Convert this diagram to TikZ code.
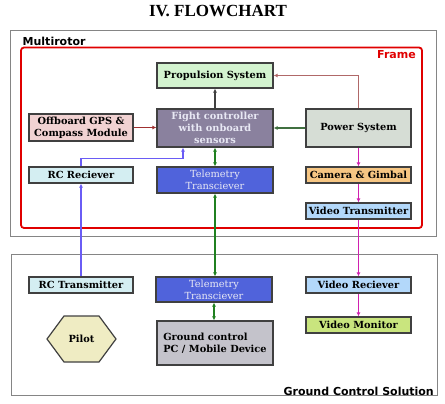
\documentclass[tikz,border=0pt]{standalone}
\usepackage{fontspec}
\setmainfont{Liberation Serif}
\newfontfamily\boxfont{DejaVu Serif}
\newfontfamily\labfont{DejaVu Sans}
\usetikzlibrary{arrows.meta}
\definecolor{cProp}{HTML}{D3F3CF}
\definecolor{cFC}{HTML}{8A819E}
\definecolor{cGPS}{HTML}{F1D2D2}
\definecolor{cPow}{HTML}{D6DDD5}
\definecolor{cRC}{HTML}{D4EEF2}
\definecolor{cTel}{HTML}{5063DB}
\definecolor{cCam}{HTML}{F6C683}
\definecolor{cVid}{HTML}{B3D8FA}
\definecolor{cMon}{HTML}{C9E57E}
\definecolor{cGPC}{HTML}{C4C3CB}
\definecolor{cPil}{HTML}{EFECC3}
\definecolor{cBord}{HTML}{404040}
\definecolor{cOut}{HTML}{858585}
\definecolor{cFrame}{HTML}{E00000}
\definecolor{aProp}{HTML}{B06868}
\definecolor{aGPS}{HTML}{A03030}
\definecolor{aPow}{HTML}{407040}
\definecolor{aBlue}{HTML}{6A5CF5}
\definecolor{aGreen}{HTML}{208020}
\definecolor{aMag}{HTML}{D020B0}
\definecolor{tLight}{HTML}{E8E8F4}
\tikzset{
  blk/.style={draw=cBord, line width=1.2pt, inner sep=1pt, align=center,
    font=\boxfont\bfseries\fontsize{9.8}{11.7}\selectfont},
  tel/.style={blk, fill=cTel, text=tLight, font=\boxfont\fontsize{9.8}{11.7}\selectfont},
  conn/.style={line width=1.1pt, -{Latex[length=4pt,width=4pt]}},
  dconn/.style={line width=1.1pt, {Latex[length=4pt,width=4pt]}-{Latex[length=4pt,width=4pt]}},
  lab/.style={font=\labfont\bfseries\fontsize{11}{12}\selectfont, inner sep=0pt},
}
\begin{document}
\begin{tikzpicture}[x=1pt,y=-1pt]
\useasboundingbox (0,0) rectangle (445,404);
\node[font=\bfseries\fontsize{17}{18}\selectfont, inner sep=0pt] (title) at (218,11) {IV. FLOWCHART};
% outer boxes
\draw[draw=cOut, line width=1pt] (10.5,30.5) rectangle (436,236);
\draw[draw=cFrame, line width=1.8pt, rounded corners=3pt] (21,47.5) rectangle (422,228);
\draw[draw=cOut, line width=1pt] (11,254) rectangle (437,395);
\node[lab, anchor=west] (multi) at (22.5,41) {Multirotor};
\node[lab, anchor=east, text=cFrame] (frame) at (416,54.5) {Frame};
\node[lab, anchor=east] (gcs) at (434,391) {Ground Control Solution};
% blocks
\node[blk, fill=cProp, minimum width=116pt, minimum height=25pt] (prop) at (215,75.5) {Propulsion System};
\node[blk, fill=cFC, text=tLight, minimum width=116pt, minimum height=38pt] (fc) at (215,128) {Fight controller\\with onboard\\sensors};
\node[blk, fill=cGPS, minimum width=104pt, minimum height=27pt] (gps) at (81,127.5) {Offboard GPS \&\\Compass Module};
\node[blk, fill=cPow, minimum width=105pt, minimum height=38pt] (pow) at (358.5,128) {Power System};
\node[blk, fill=cRC, minimum width=104pt, minimum height=16pt] (rcr) at (81,175) {RC Reciever};
\node[tel, minimum width=116pt, minimum height=26pt] (telu) at (215,180) {Telemetry\\Transciever};
\node[blk, fill=cCam, minimum width=105pt, minimum height=16pt] (cam) at (358.5,175) {Camera \& Gimbal};
\node[blk, fill=cVid, minimum width=105pt, minimum height=16pt] (vtx) at (358.5,211) {Video Transmitter};
\node[blk, fill=cRC, minimum width=104pt, minimum height=16pt] (rct) at (81,285) {RC Transmitter};
\node[tel, minimum width=116pt, minimum height=25pt] (tell) at (214,289.5) {Telemetry\\Transciever};
\node[blk, fill=cVid, minimum width=105pt, minimum height=16pt] (vrx) at (358.5,285) {Video Reciever};
\node[blk, fill=cMon, minimum width=105pt, minimum height=16pt] (vmon) at (358.5,325) {Video Monitor};
\node[blk, fill=cGPC, minimum width=116pt, minimum height=44pt, align=left] (gpc) at (215,343) {Ground control\\PC / Mobile Device};
% pilot hexagon
\draw[draw=cBord, line width=1.2pt, fill=cPil] (47,339) -- (64,316) -- (99,316) -- (116,339) -- (99,362) -- (64,362) -- cycle;
\node[font=\boxfont\bfseries\fontsize{9.8}{11.7}\selectfont] (pilot) at (81.5,339) {Pilot};
% connectors
\draw[conn, draw=cBord] (fc.north) -- (prop.south);
\draw[conn, draw=aProp] (pow.north) |- (prop.east);
\draw[conn, draw=aGPS] (gps.east) -- (gps.east -| fc.west);
\draw[conn, draw=aPow] (pow.west) -- (pow.west -| fc.east);
\coordinate (fcb) at ([xshift=-32pt]fc.south);
\draw[conn, draw=aBlue] (rcr.north) |- ([yshift=-11pt]fcb) -- (fcb);
\draw[dconn, draw=aGreen] (fc.south) -- (telu.north);
\draw[conn, draw=aMag] (pow.south) -- (cam.north);
\draw[conn, draw=aMag] (cam.south) -- (vtx.north);
\draw[conn, draw=aBlue] (rct.north) -- (rcr.south);
\draw[dconn, draw=aGreen] (telu.south) -- (telu.south |- tell.north);
\draw[conn, draw=aMag] (vtx.south) -- (vrx.north);
\draw[conn, draw=aMag] (vrx.south) -- (vmon.north);
\draw[dconn, draw=aGreen] (tell.south) -- (tell.south |- gpc.north);
\end{tikzpicture}
\end{document}
